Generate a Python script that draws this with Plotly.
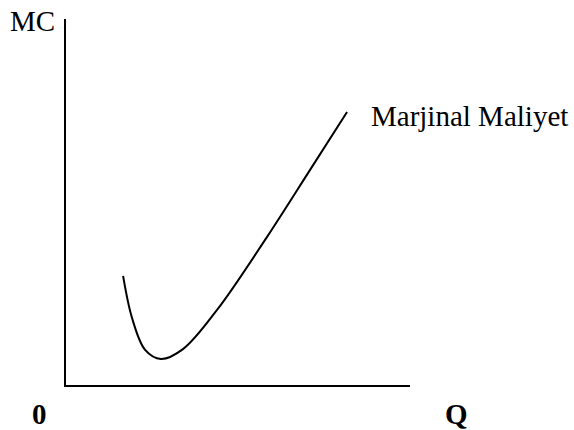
import plotly.graph_objects as go

# Quantity (Q) and marginal cost (MC) (axis units 0..10)
q_values = [1.66, 1.92, 2.30, 2.76, 3.40, 4.39, 5.84, 7.09, 8.17]
mc_values = [2.98, 1.83, 0.96, 0.71, 0.98, 2.05, 4.04, 5.87, 7.46]

curve_label = "Marjinal Maliyet"
y_label = "MC"
x_label = "Q"
origin_label = "0"

FONT = "Liberation Serif, Times New Roman, serif"
FS = 29

fig = go.Figure()
fig.add_trace(go.Scatter(
    x=q_values, y=mc_values, mode="lines",
    line=dict(color="black", width=2, shape="spline", smoothing=1.0),
    hoverinfo="skip", showlegend=False,
))

fig.update_layout(
    width=574, height=430,
    margin=dict(l=66, r=164, t=19, b=45),
    paper_bgcolor="white", plot_bgcolor="white",
    xaxis=dict(range=[0, 10], showline=True, linecolor="black", linewidth=2,
               showgrid=False, zeroline=False, showticklabels=False, ticks=""),
    yaxis=dict(range=[0, 10], showline=True, linecolor="black", linewidth=2,
               showgrid=False, zeroline=False, showticklabels=False, ticks=""),
    annotations=[
        dict(text=y_label, xref="paper", yref="paper", x=-0.168, y=0.995,
             xanchor="left", yanchor="middle", showarrow=False,
             font=dict(family=FONT, size=FS, color="black")),
        dict(text=curve_label, xref="paper", yref="paper", x=0.882, y=0.735,
             xanchor="left", yanchor="middle", showarrow=False,
             font=dict(family=FONT, size=FS, color="black")),
        dict(text="<b>" + origin_label + "</b>", xref="paper", yref="paper", x=-0.0756, y=-0.080,
             xanchor="center", yanchor="middle", showarrow=False,
             font=dict(family=FONT, size=FS, color="black")),
        dict(text="<b>" + x_label + "</b>", xref="paper", yref="paper", x=1.134, y=-0.080,
             xanchor="center", yanchor="middle", showarrow=False,
             font=dict(family=FONT, size=FS, color="black")),
    ],
)

fig.write_html("out.html", config={"displayModeBar": False},
               post_script="document.body.style.margin='0px';")
